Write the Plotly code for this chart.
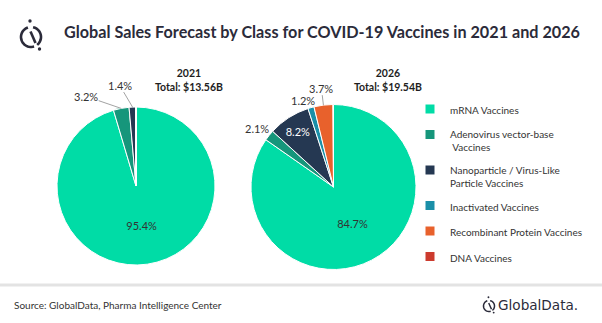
import math
import plotly.graph_objects as go

W, H = 602, 323

# ---- data ----
categories = [
    "mRNA Vaccines",
    "Adenovirus vector-base<br> Vaccines",
    "Nanoparticle / Virus-Like<br>Particle Vaccines",
    "Inactivated Vaccines",
    "Recombinant Protein Vaccines",
    "DNA Vaccines",
]
share_2021 = [95.4, 3.2, 1.4, 0.0, 0.0, 0.0]
share_2026 = [84.7, 2.1, 8.2, 1.2, 3.7, 0.1]
years = ["2021", "2026"]
totals = ["$13.56B", "$19.54B"]

colors = ["#00DCA6", "#16967B", "#253852", "#1A8FA8", "#E8612C", "#CC3B2E"]
FONT = "Lato, 'Open Sans', sans-serif"
DARK = "#2B2B3A"


def px(x):
    return x / W


def py(y):
    return 1 - y / H


# pie placement (pixel centre, radius)
pies = [
    dict(cx=136, cy=186, r=79),
    dict(cx=333.5, cy=187, r=82.5),
]
# which slices carry their label inside the pie
inside_2021 = [True, False, False, False, False, False]
inside_2026 = [True, False, True, False, False, False]
# outside label offsets (pixels from slice rim midpoint)
label_offsets = [
    {1: (-35, -12), 2: (-13, -22)},
    {1: (-12, -7), 3: (-8, -7), 4: (-2, -17)},
]
inside_colors_2026 = ["#333333", DARK, "#FFFFFF", DARK, DARK, DARK]

fig = go.Figure()

series = [share_2021, share_2026]
insides = [inside_2021, inside_2026]
for i, (vals, ins, p) in enumerate(zip(series, insides, pies)):
    texts = [f"{v:.1f}%" if flag else "" for v, flag in zip(vals, ins)]
    fig.add_trace(go.Pie(
        labels=categories,
        values=vals,
        sort=False,
        direction="clockwise",
        rotation=0,
        marker=dict(colors=colors, line=dict(color="white", width=1)),
        text=texts,
        textinfo="text",
        textposition=["inside" if f else "none" for f in ins],
        insidetextorientation="horizontal",
        insidetextfont=dict(family=FONT, size=11,
                            color=inside_colors_2026 if i == 1 else "#333333"),
        hoverinfo="label+percent",
        showlegend=False,
        domain=dict(x=[px(p["cx"] - p["r"]), px(p["cx"] + p["r"])],
                    y=[py(p["cy"] + p["r"]), py(p["cy"] - p["r"])]),
    ))

annotations = []
# outside labels with leader lines, anchored on each slice's mid-angle
for vals, p, offs in zip(series, pies, label_offsets):
    total = sum(vals)
    start = 0.0
    for k, v in enumerate(vals):
        ang = start + v / total * 360 / 2
        start += v / total * 360
        if k not in offs:
            continue
        rx = p["cx"] + p["r"] * math.sin(math.radians(ang))
        ry = p["cy"] - p["r"] * math.cos(math.radians(ang))
        ax, ay = offs[k]
        annotations.append(dict(
            x=px(rx), y=py(ry), xref="paper", yref="paper",
            text=f"{v:.1f}%", showarrow=True, arrowhead=0, arrowwidth=0.8,
            arrowcolor="#8A8A8A", ax=ax, ay=ay, axref="pixel", ayref="pixel",
            font=dict(family=FONT, size=11, color="#333333"),
            borderpad=0,
        ))

# year headers
for yr, tot, xc in zip(years, totals, [189, 388]):
    annotations.append(dict(
        x=px(xc), y=py(80), xref="paper", yref="paper", showarrow=False,
        xanchor="center", yanchor="middle",
        text=f"<b>{yr}</b><br><b>Total: {tot}</b>", align="center",
        font=dict(family=FONT, size=10.5, color="#1E1E1E"),
    ))

# title and footer
annotations.append(dict(
    x=px(62), y=py(31), xref="paper", yref="paper", showarrow=False,
    xanchor="left", yanchor="middle",
    text="<b>Global Sales Forecast by Class for COVID-19 Vaccines in 2021 and 2026</b>",
    font=dict(family=FONT, size=16.2, color=DARK),
))
annotations.append(dict(
    x=px(12), y=py(305), xref="paper", yref="paper", showarrow=False,
    xanchor="left", yanchor="middle",
    text="Source: GlobalData, Pharma Intelligence Center",
    font=dict(family=FONT, size=10, color="#333333"),
))
annotations.append(dict(
    x=px(496), y=py(305), xref="paper", yref="paper", showarrow=False,
    xanchor="left", yanchor="middle", text="GlobalData.",
    font=dict(family="'DejaVu Sans', sans-serif", size=13.6, color=DARK),
))


def logo_shapes(cx, cy, r, w):
    """GlobalData mark: broken ring, slash and two dots."""
    def arc(a0, a1, n=24):
        pts = []
        for j in range(n + 1):
            a = math.radians(a0 + (a1 - a0) * j / n)
            pts.append((cx + r * math.cos(a), cy - r * math.sin(a)))
        return "M " + " L ".join(f"{px(x):.5f},{py(y):.5f}" for x, y in pts)

    shp = []
    for a0, a1 in [(108, 288), (-52, 78)]:
        shp.append(dict(type="path", path=arc(a0, a1), xref="paper", yref="paper",
                        line=dict(color=DARK, width=w)))
    shp.append(dict(type="line", xref="paper", yref="paper",
                    x0=px(cx - 0.05 * r), y0=py(cy - 0.55 * r),
                    x1=px(cx + 0.45 * r), y1=py(cy + 0.6 * r),
                    line=dict(color=DARK, width=w)))
    d = r * 0.17
    for dx, dy in [(-0.1 * r, -1.6 * r), (0.85 * r, 1.2 * r)]:
        shp.append(dict(type="circle", xref="paper", yref="paper",
                        x0=px(cx + dx - d), x1=px(cx + dx + d),
                        y0=py(cy + dy + d), y1=py(cy + dy - d),
                        fillcolor=DARK, line=dict(width=0)))
    return shp


shapes = []
shapes += logo_shapes(31, 37, 10, 2.6)
shapes += logo_shapes(489, 306, 5.5, 1.5)
shapes.append(dict(type="line", xref="paper", yref="paper", x0=0, x1=1,
                   y0=py(285), y1=py(285), line=dict(color="#E3E3E3", width=3)))

# legend entries, one group each so the spacing can be set
for name, col in zip(categories, colors):
    fig.add_trace(go.Scatter(
        x=[None], y=[None], mode="markers", name=name, legendgroup=name,
        marker=dict(symbol="square", size=9, color=col),
        showlegend=True, hoverinfo="skip",
    ))

fig.update_layout(
    width=W, height=H,
    margin=dict(l=0, r=0, t=0, b=0),
    paper_bgcolor="white", plot_bgcolor="white",
    xaxis=dict(visible=False), yaxis=dict(visible=False),
    legend=dict(x=px(410), y=py(96), xanchor="left", yanchor="top",
                font=dict(family=FONT, size=10, color="#333333"),
                tracegroupgap=6.5, itemwidth=30, valign="top",
                bgcolor="rgba(0,0,0,0)"),
    annotations=annotations,
    shapes=shapes,
)

fig.write_html("out.html")
